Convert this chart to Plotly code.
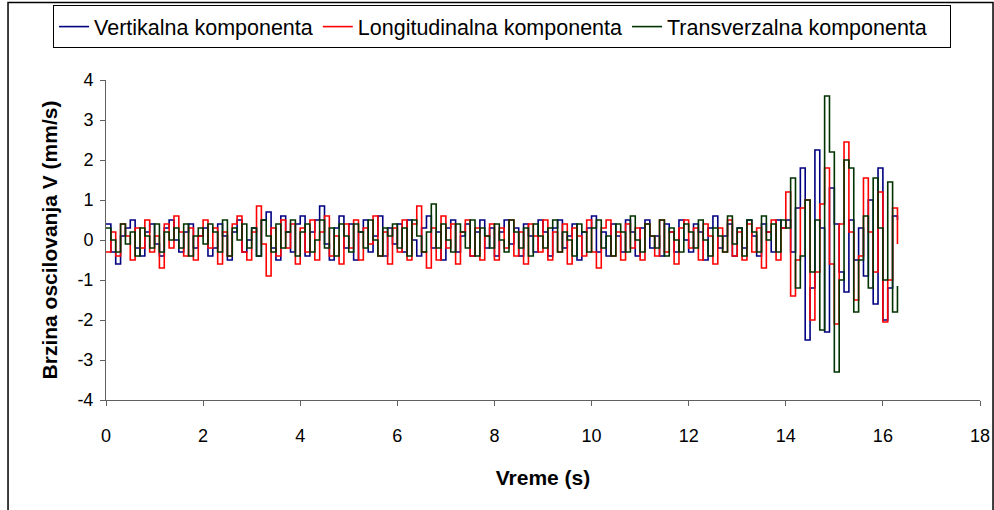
import numpy as np
import plotly.graph_objects as go

# vremenska osa (s), korak 0.1 s
vreme = np.round(np.arange(164) * 0.1, 1)

vertikalna = [
    0.4, -0.3, -0.6, 0.1, 0.3, 0.5, -0.2, -0.4, 0.2, 0.4,
    -0.1, -0.4, 0.3, 0.5, 0.0, -0.3, 0.2, 0.4, -0.2, 0.1,
    0.3, -0.4, -0.2, 0.4, 0.1, -0.5, 0.2, 0.5, -0.3, 0.0,
    0.3, -0.4, 0.5, 0.7, -0.2, -0.5, 0.6, 0.2, -0.3, 0.4,
    0.6, -0.4, 0.2, 0.5, 0.85, -0.1, -0.5, 0.3, 0.6, -0.2,
    0.4, -0.5, 0.2, 0.5, -0.3, 0.1, 0.6, -0.4, 0.3, -0.1,
    0.4, -0.3, 0.5, 0.0, -0.4, 0.3, 0.6, -0.2, 0.2, -0.5,
    0.3, 0.5, -0.3, 0.1, 0.4, -0.4, 0.2, 0.5, -0.2, 0.3,
    -0.4, 0.2, 0.5, -0.1, 0.3, -0.4, 0.4, 0.1, -0.3, 0.5,
    0.2, -0.4, 0.3, 0.5, -0.2, 0.1, 0.4, -0.5, 0.2, 0.3,
    0.6, -0.3, 0.2, -0.4, 0.4, 0.1, -0.3, 0.5, 0.2, -0.4,
    0.3, 0.5, -0.2, 0.1, -0.4, 0.4, 0.2, -0.3, 0.5, 0.0,
    -0.3, 0.4, 0.2, -0.5, 0.3, 0.6, -0.2, 0.1, 0.4, -0.4,
    0.3, -0.2, 0.5, 0.1, -0.4, 0.4, 0.2, -0.3, 0.5, 0.3,
    0.5, -0.3, 0.8, 1.8, -2.5, -1.2, 2.25, 0.3, -2.3, 1.3,
    0.4, -0.8, -1.3, 0.5, -0.5, 0.3, -0.9, 1.0, -1.6, 1.8,
    -2.0, -1.2, 0.6, 0.5,
]

longitudinalna = [
    -0.3, 0.2, -0.4, 0.4, 0.1, -0.5, 0.3, -0.2, 0.5, -0.3,
    0.1, -0.7, 0.4, -0.2, 0.6, 0.2, -0.4, 0.3, -0.5, 0.1,
    0.5, -0.2, 0.3, -0.6, 0.2, -0.4, 0.4, 0.6, -0.3, -0.5,
    0.2, 0.85, -0.1, -0.9, 0.3, -0.4, 0.5, -0.2, 0.4, -0.6,
    0.3, -0.3, 0.5, -0.5, 0.2, 0.6, -0.4, 0.1, -0.6, 0.4,
    -0.2, 0.5, -0.5, 0.3, -0.1, 0.6, -0.4, 0.2, -0.6, 0.3,
    -0.3, 0.5, -0.5, 0.4, 0.85, -0.3, -0.7, 0.3, -0.5, 0.6,
    -0.2, 0.4, -0.6, 0.2, 0.5, -0.4, 0.3, -0.5, 0.1, 0.4,
    -0.5, 0.3, -0.2, 0.5, -0.4, 0.2, -0.6, 0.4, 0.1, -0.3,
    0.5, -0.5, 0.2, -0.3, 0.4, -0.6, 0.3, 0.1, -0.4, 0.5,
    -0.3, -0.7, 0.3, 0.5, -0.4, 0.2, -0.5, 0.4, -0.2, 0.3,
    -0.5, 0.4, 0.1, -0.4, 0.5, -0.3, 0.2, -0.6, 0.3, 0.5,
    -0.2, 0.3, -0.5, 0.4, 0.1, -0.6, 0.3, -0.3, 0.5, -0.4,
    0.2, -0.5, 0.4, -0.3, 0.3, -0.7, 0.2, 0.5, -0.5, 0.3,
    1.2, -1.4, -0.5, 0.8, 1.0, -2.0, -0.8, 0.9, 1.8, -0.6,
    -2.1, 0.4, 2.45, 0.2, -1.5, -0.4, 1.55, 0.2, -0.8, 1.2,
    -2.05, -1.0, 0.8, -0.1,
]

transverzalna = [
    0.3, 0.0, -0.3, 0.4, -0.1, 0.2, -0.4, 0.3, 0.1, -0.2,
    0.4, -0.3, 0.2, 0.0, 0.3, -0.2, 0.4, -0.4, 0.1, 0.3,
    -0.1, 0.4, 0.2, -0.3, 0.5, -0.4, 0.3, 0.0, 0.4, -0.2,
    0.3, -0.4, 0.5, 0.1, -0.3, 0.4, -0.2, 0.2, 0.5, -0.4,
    0.2, 0.4, -0.3, 0.0, 0.5, -0.2, 0.3, -0.4, 0.4, 0.1,
    -0.3, 0.4, 0.2, -0.2, 0.5, 0.0, -0.4, 0.3, 0.1, 0.4,
    -0.2, 0.3, -0.4, 0.5, 0.1, -0.3, 0.2, 0.9, -0.2, 0.4,
    0.0, -0.3, 0.4, 0.2, -0.2, 0.5, -0.4, 0.3, 0.1, -0.2,
    0.4, 0.0, -0.3, 0.5, 0.2, -0.2, 0.3, -0.4, 0.4, 0.1,
    -0.2, 0.3, 0.5, -0.3, 0.2, 0.0, -0.4, 0.4, 0.2, -0.3,
    0.3, 0.5, -0.2, 0.1, -0.4, 0.4, 0.2, -0.3, 0.6, 0.0,
    -0.3, 0.4, 0.1, -0.2, 0.5, -0.4, 0.3, 0.0, -0.3, 0.4,
    0.2, -0.2, 0.5, 0.0, -0.4, 0.3, 0.1, -0.3, 0.6, -0.1,
    0.3, -0.4, 0.5, 0.2, -0.3, 0.6, 0.0, 0.4, -0.3, 0.5,
    0.3, 1.55, -1.2, -0.4, 1.0, -0.8, 0.5, -2.25, 3.6, 2.2,
    -3.3, -1.0, 2.0, 1.8, -1.8, -0.5, 0.6, -1.2, 1.55, 0.3,
    -1.0, 1.45, -1.8, -1.15,
]

y_ticks = [-4, -3, -2, -1, 0, 1, 2, 3, 4]
y_tick_text = ["-4", "-3", "-2", "-1", "0", "1", "2", "3", "4"]
x_ticks = [0, 2, 4, 6, 8, 10, 12, 14, 16, 18]

nb = "\u00a0"  # razmak na kraju legende
fig = go.Figure()
fig.add_trace(go.Scatter(x=vreme, y=vertikalna, name="Vertikalna komponenta",
                         mode="lines", line=dict(color="#000080", width=1.6, shape="hv")))
fig.add_trace(go.Scatter(x=vreme, y=longitudinalna, name="Longitudinalna komponenta",
                         mode="lines", line=dict(color="#FF0000", width=1.6, shape="hv")))
fig.add_trace(go.Scatter(x=vreme, y=transverzalna, name="Transverzalna komponenta" + nb * 3,
                         mode="lines", line=dict(color="#003300", width=1.6, shape="hv")))

fig.update_layout(
    width=994, height=510,
    margin=dict(l=106, r=14, t=80, b=110, autoexpand=False),
    paper_bgcolor="white", plot_bgcolor="white",
    font=dict(family="Arial, Liberation Sans", size=18, color="black"),
    showlegend=True,
    legend=dict(orientation="h", x=-0.0606, y=1.234, xanchor="left", yanchor="top",
                bordercolor="black", borderwidth=1, bgcolor="white",
                font=dict(size=21.5), tracegroupgap=0),
)
fig.update_xaxes(range=[0, 18], tickvals=x_ticks, showgrid=False, zeroline=False,
                 automargin=False,
                 showline=True, linecolor="#606060", linewidth=1,
                 ticks="outside", ticklen=5, tickcolor="#606060",
                 ticklabelstandoff=14,
                 title=dict(text="<b>Vreme (s)</b>", font=dict(size=21), standoff=25))
fig.update_yaxes(range=[-4, 4], tickvals=y_ticks, ticktext=y_tick_text,
                 showgrid=False, zeroline=False,
                 showline=True, linecolor="#606060", linewidth=1,
                 ticks="outside", ticklen=5, tickcolor="#606060",
                 ticklabelstandoff=3,
                 title=dict(text="<b>Brzina oscilovanja V (mm/s)</b>", font=dict(size=21), standoff=14))

# okvir oko cele slike
fig.add_shape(type="rect", xref="paper", yref="paper",
              x0=-0.1121, x1=1.0149, y0=-0.37, y1=1.2422,
              line=dict(color="black", width=1.5), fillcolor="rgba(0,0,0,0)")

fig.write_html("out.html", config={"displayModeBar": False},
               post_script="document.body.style.margin='0';")
